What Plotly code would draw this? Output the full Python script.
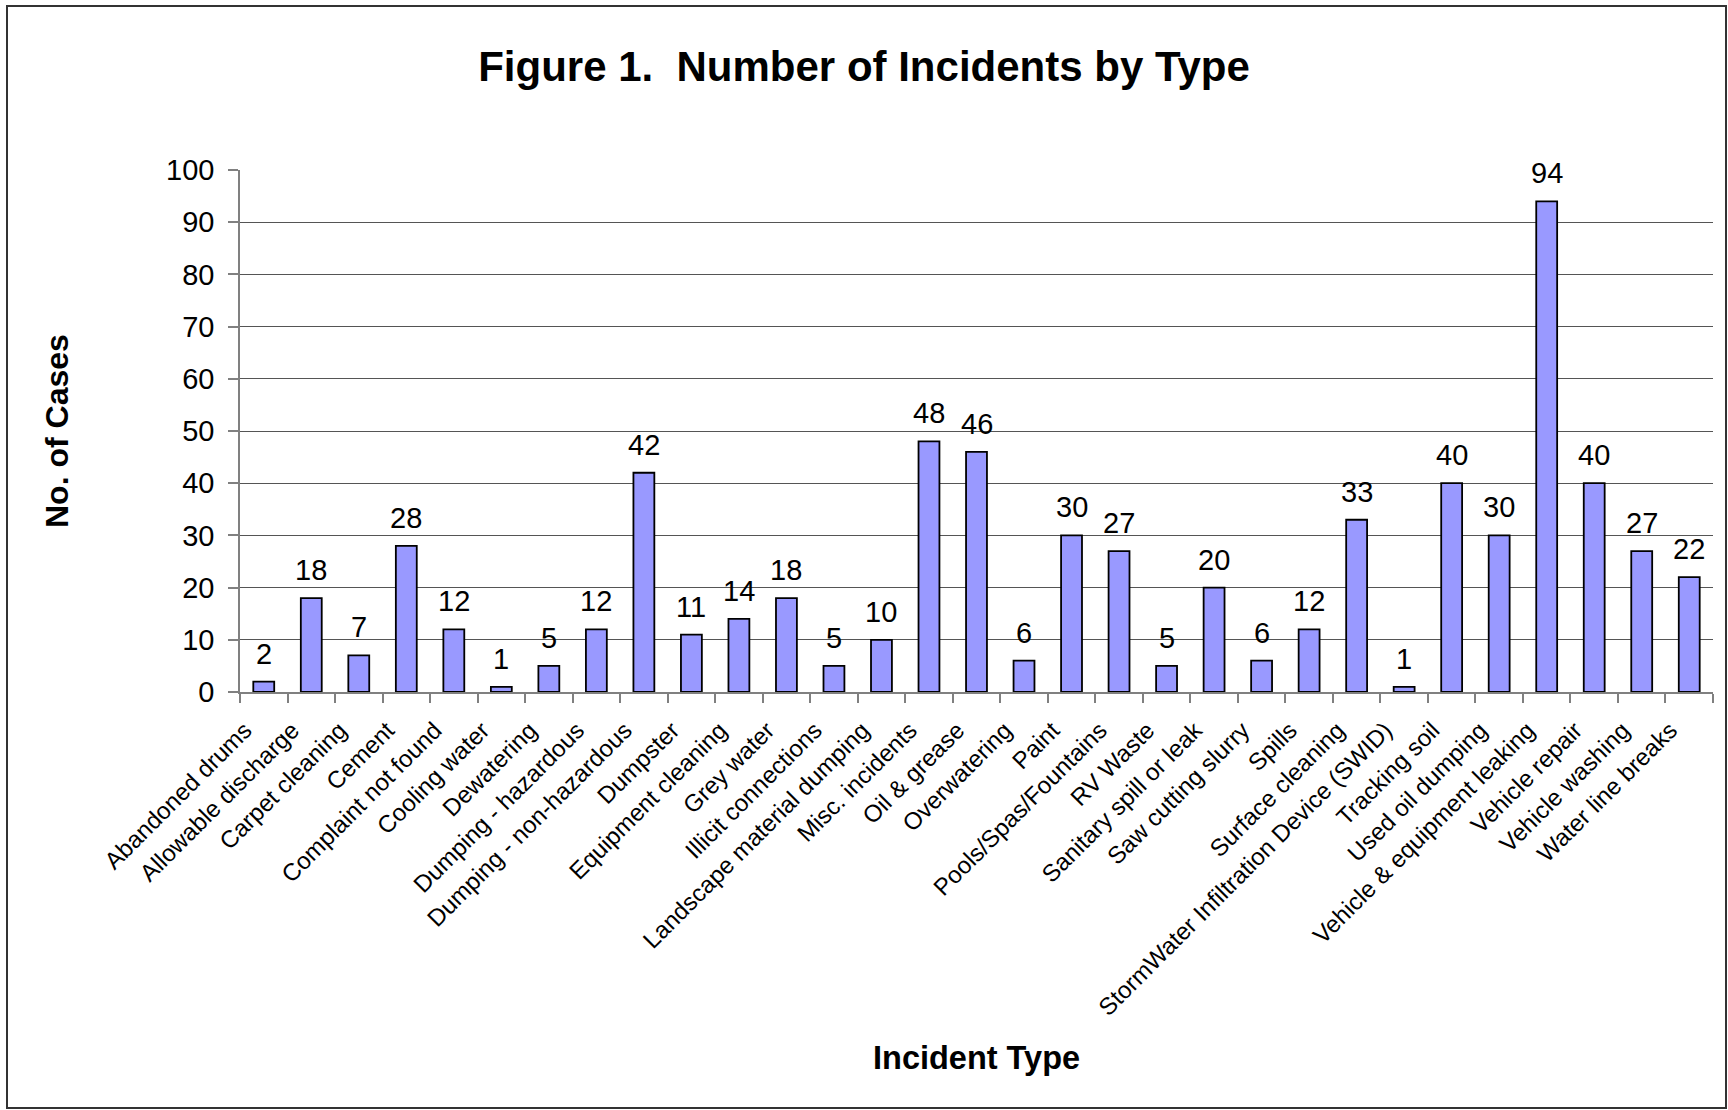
import plotly.graph_objects as go

categories = [
    "Abandoned drums", "Allowable discharge", "Carpet cleaning", "Cement",
    "Complaint not found", "Cooling water", "Dewatering", "Dumping - hazardous",
    "Dumping - non-hazardous", "Dumpster", "Equipment cleaning", "Grey water",
    "Illicit connections", "Landscape material dumping", "Misc. incidents",
    "Oil & grease", "Overwatering", "Paint", "Pools/Spas/Fountains", "RV Waste",
    "Sanitary spill or leak", "Saw cutting slurry", "Spills", "Surface cleaning",
    "StormWater Infiltration Device (SWID)", "Tracking soil", "Used oil dumping",
    "Vehicle & equipment leaking", "Vehicle repair", "Vehicle washing",
    "Water line breaks",
]
cases = [2, 18, 7, 28, 12, 1, 5, 12, 42, 11, 14, 18, 5, 10, 48, 46, 6, 30, 27, 5,
         20, 6, 12, 33, 1, 40, 30, 94, 40, 27, 22]
y_ticks = [0, 10, 20, 30, 40, 50, 60, 70, 80, 90, 100]

FONT = "Arial, 'Liberation Sans', sans-serif"
W, H = 1728, 1110
L, R, T, B = 240, 15, 170, 418
pw, ph = W - L - R, H - T - B


def px_x(x):
    return (x - L) / pw


def px_y(y):
    return (H - B - y) / ph


fig = go.Figure()
fig.add_trace(go.Bar(
    x=categories, y=cases,
    marker=dict(color="#9999FF", line=dict(color="#000000", width=1.8)),
    showlegend=False, hoverinfo="x+y",
))

annotations = []
for c, v in zip(categories, cases):
    annotations.append(dict(
        x=c, y=v, xref="x", yref="y", text=str(v), showarrow=False,
        yanchor="bottom", yshift=10, font=dict(family=FONT, size=29, color="#000000"),
    ))
annotations.append(dict(
    x=px_x(57), y=0.5, xref="paper", yref="paper", text="<b>No. of Cases</b>",
    textangle=-90, showarrow=False, xanchor="center", yanchor="middle",
    font=dict(family=FONT, size=32, color="#000000"),
))
annotations.append(dict(
    x=0.5, y=px_y(1058), xref="paper", yref="paper", text="<b>Incident Type</b>",
    showarrow=False, xanchor="center", yanchor="middle",
    font=dict(family=FONT, size=32.5, color="#000000"),
))

fig.update_layout(
    width=W, height=H,
    margin=dict(l=L, r=R, t=T, b=B, pad=0),
    paper_bgcolor="#FFFFFF", plot_bgcolor="#FFFFFF",
    bargap=0.56,
    title=dict(
        text="<b>Figure 1.\u00a0 Number of Incidents by Type</b>",
        x=0.5, xref="container", xanchor="center",
        y=1 - 66 / H, yref="container", yanchor="middle",
        font=dict(family=FONT, size=42, color="#000000"),
    ),
    xaxis=dict(
        type="category", tickangle=-45, tickson="boundaries",
        ticks="outside", ticklen=9, tickcolor="#808080", tickwidth=1.5,
        showline=True, linecolor="#808080", linewidth=1.5,
        showgrid=False, tickfont=dict(family=FONT, size=24, color="#000000"),
        automargin=False, ticklabelshift=-19, ticklabelstandoff=13,
    ),
    yaxis=dict(
        range=[0, 100], tickvals=y_ticks, ticks="outside", ticklen=10,
        tickcolor="#808080", tickwidth=1.5, showline=True, linecolor="#808080",
        linewidth=1.5, showgrid=True, gridcolor="#555555", gridwidth=1,
        zeroline=False, tickfont=dict(family=FONT, size=29, color="#000000"),
        automargin=False, ticklabelstandoff=8,
    ),
    annotations=annotations,
    shapes=[dict(
        type="rect", xref="paper", yref="paper",
        x0=px_x(7), x1=px_x(1726), y0=px_y(1108), y1=px_y(6),
        line=dict(color="#333333", width=2), fillcolor="rgba(0,0,0,0)", layer="below",
    )],
)

fig.write_html(
    "out.html",
    config={"displayModeBar": False},
    post_script="document.body.style.margin='0';document.body.style.overflow='hidden';",
)
